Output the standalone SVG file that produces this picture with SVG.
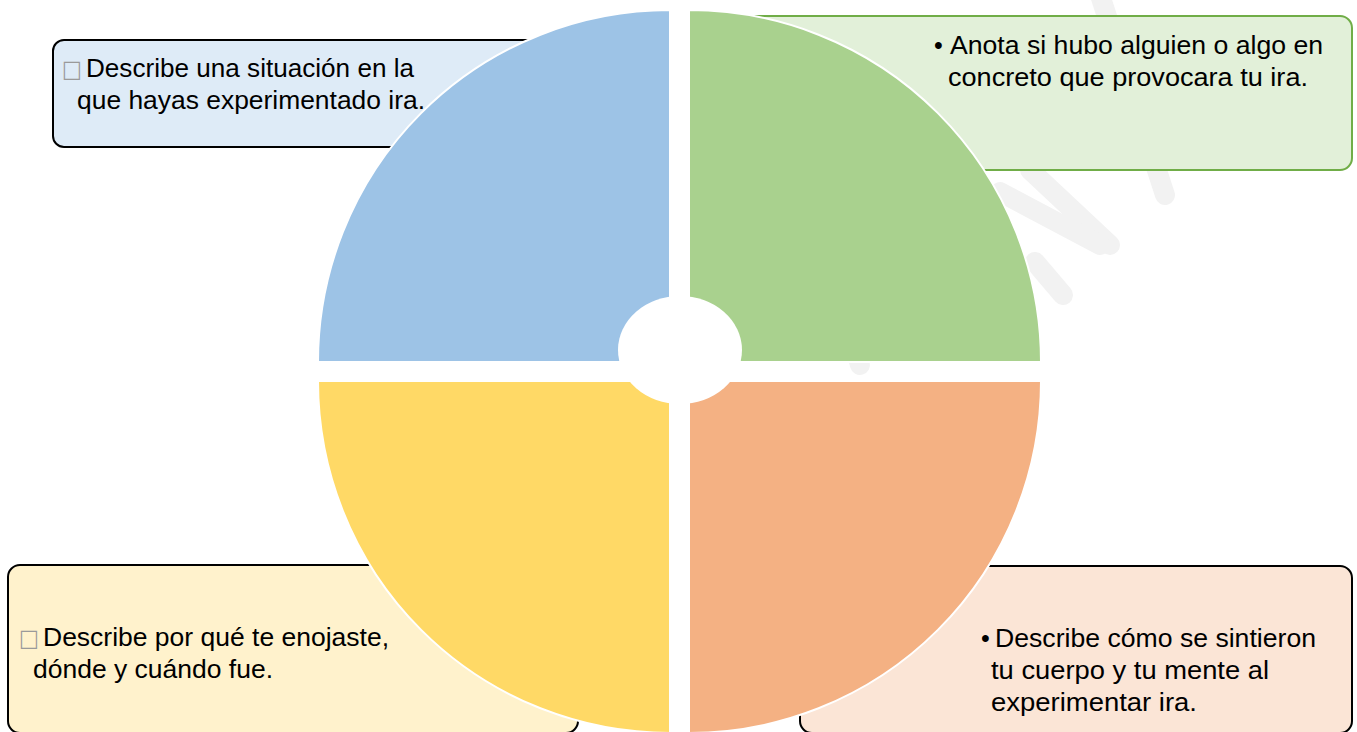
<svg xmlns="http://www.w3.org/2000/svg" width="1357" height="732" viewBox="0 0 1357 732">
<style>
.box{stroke-width:2}
.t{font-family:"Liberation Sans",Arial,sans-serif;font-size:25px;fill:#000}
.sq{font-family:"DejaVu Sans",sans-serif;font-size:24px;fill:#9a9a9a}
.q{stroke:#fff;stroke-width:2}
.wm{stroke:#f2f2f2;stroke-width:20;stroke-linecap:round;fill:none}
</style>
<rect width="1357" height="732" fill="#fff"/>
<g id="watermark">
<line class="wm" x1="1100" y1="-5" x2="1165" y2="195"/>
<line class="wm" x1="1030" y1="170" x2="1110" y2="245"/>
<line class="wm" x1="1000" y1="192" x2="1100" y2="245"/>
<line class="wm" x1="1035" y1="262" x2="1063" y2="295"/>
<line class="wm" x1="850" y1="330" x2="860" y2="365"/>
</g>
<g id="node-tl">
<rect class="box" x="53" y="40" width="540" height="107" rx="11" fill="#DEEBF7" stroke="#000"/>
<text class="sq" x="62" y="77" textLength="20" lengthAdjust="spacingAndGlyphs">□</text>
<text class="t" x="86" y="77" textLength="328" lengthAdjust="spacingAndGlyphs">Describe una situación en la</text>
<text class="t" x="77" y="109" textLength="348" lengthAdjust="spacingAndGlyphs">que hayas experimentado ira.</text>
</g>
<g id="node-tr">
<rect class="box" x="720" y="16" width="632" height="154" rx="12" fill="#E2F0D9" stroke="#70AD47"/>
<text class="t" x="934" y="54">•</text>
<text class="t" x="950" y="54" textLength="373" lengthAdjust="spacingAndGlyphs">Anota si hubo alguien o algo en</text>
<text class="t" x="948" y="86" textLength="360" lengthAdjust="spacingAndGlyphs">concreto que provocara tu ira.</text>
</g>
<g id="node-bl">
<rect class="box" x="8" y="565" width="570" height="168" rx="12" fill="#FFF2CC" stroke="#000"/>
<text class="sq" x="19" y="646" textLength="20" lengthAdjust="spacingAndGlyphs">□</text>
<text class="t" x="43" y="646" textLength="346" lengthAdjust="spacingAndGlyphs">Describe por qué te enojaste,</text>
<text class="t" x="33" y="678" textLength="240" lengthAdjust="spacingAndGlyphs">dónde y cuándo fue.</text>
</g>
<g id="node-br">
<rect class="box" x="800" y="566" width="552" height="167" rx="12" fill="#FBE5D6" stroke="#000"/>
<text class="t" x="981" y="647">•</text>
<text class="t" x="995" y="647" textLength="321" lengthAdjust="spacingAndGlyphs">Describe cómo se sintieron</text>
<text class="t" x="991" y="679" textLength="278" lengthAdjust="spacingAndGlyphs">tu cuerpo y tu mente al</text>
<text class="t" x="991" y="711" textLength="206" lengthAdjust="spacingAndGlyphs">experimentar ira.</text>
</g>
<g id="quadrant-tl"><path class="q" d="M670,362 L318,362 A352,352 0 0 1 670,10 Z" fill="#9DC3E6"/></g>
<g id="quadrant-tr"><path class="q" d="M689,362 L689,10 A352,352 0 0 1 1041,362 Z" fill="#A9D18E"/></g>
<g id="quadrant-bl"><path class="q" d="M670,381 L670,733 A352,352 0 0 1 318,381 Z" fill="#FFD966"/></g>
<g id="quadrant-br"><path class="q" d="M689,381 L1041,381 A352,352 0 0 1 689,733 Z" fill="#F4B183"/></g>
<g id="center"><ellipse cx="680" cy="350" rx="62" ry="54" fill="#fff"/></g>
<g id="connectors"></g>
</svg>
